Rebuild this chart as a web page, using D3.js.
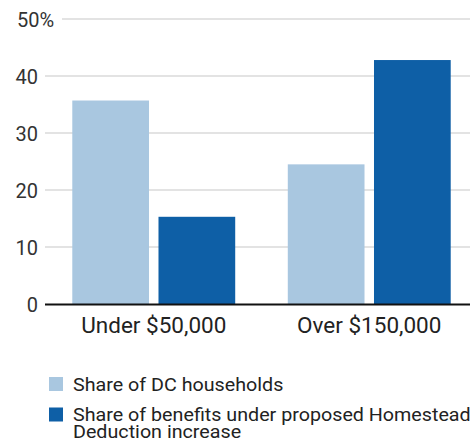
<!DOCTYPE html>
<meta charset="utf-8">
<script src="https://d3js.org/d3.v7.min.js"></script>
<style>
  body { margin: 0; background: #fff; }
  text { font-family: Roboto, "Noto Sans", sans-serif; }
</style>
<div id="my_dataviz"></div>
<script>

// data
var groups = ["Under $50,000", "Over $150,000"];
var series = ["Share of DC households", "Share of benefits under proposed Homestead Deduction increase"];
var households = [35.7, 24.5];
var benefits = [15.3, 42.8];
var yTicks = [0, 10, 20, 30, 40, 50];
var colors = ["#a9c7e0", "#0e5fa6"];

var width = 470, height = 440;

var svg = d3.select("#my_dataviz")
  .append("svg")
    .attr("width", width)
    .attr("height", height);

var y = d3.scaleLinear()
  .domain([0, 50])
  .range([304, 19]);

var x0 = d3.scaleBand()
  .domain(groups)
  .range([46, 477])
  .paddingInner(0.244)
  .paddingOuter(0.122);

var x1 = d3.scaleBand()
  .domain(series)
  .range([0, x0.bandwidth()])
  .paddingInner(0.11);

var color = d3.scaleOrdinal().domain(series).range(colors);

// gridlines
svg.selectAll("myGrid")
  .data(yTicks.filter(function(d){ return d > 0; }))
  .enter()
  .append("line")
    .attr("x1", function(d){ return d == 50 ? 62 : 45; })
    .attr("x2", width)
    .attr("y1", function(d){ return y(d); })
    .attr("y2", function(d){ return y(d); })
    .attr("stroke", "#c8c8c8")
    .attr("stroke-width", 1.2);

// y labels
var yLab = svg.selectAll("myYLabels")
  .data(yTicks)
  .enter()
  .append("text")
    .attr("x", 38)
    .attr("y", function(d){ return y(d) + 7.5; })
    .attr("text-anchor", "end")
    .style("font-size", "20px")
    .style("fill", "#333")
    .text(function(d){ return d; });

yLab.filter(function(d){ return d == 50; })
  .attr("text-anchor", "start")
  .attr("x", 17)
  .text("50%");

// bars
var rows = groups.map(function(g, i){
  return { group: g, values: [
    { key: series[0], value: households[i] },
    { key: series[1], value: benefits[i] }
  ]};
});

svg.selectAll("myGroups")
  .data(rows)
  .enter()
  .append("g")
    .attr("transform", function(d){ return "translate(" + x0(d.group) + ",0)"; })
  .selectAll("rect")
  .data(function(d){ return d.values; })
  .enter()
  .append("rect")
    .attr("x", function(d){ return x1(d.key); })
    .attr("y", function(d){ return y(d.value); })
    .attr("width", x1.bandwidth())
    .attr("height", function(d){ return y(0) - y(d.value); })
    .attr("fill", function(d){ return color(d.key); });

// baseline
svg.append("line")
  .attr("x1", 45)
  .attr("x2", width)
  .attr("y1", y(0) + 0.5)
  .attr("y2", y(0) + 0.5)
  .attr("stroke", "#111")
  .attr("stroke-width", 2);

// x labels
svg.selectAll("myXLabels")
  .data(groups)
  .enter()
  .append("text")
    .attr("x", function(d){ return x0(d) + x0.bandwidth() / 2; })
    .attr("y", 333)
    .attr("text-anchor", "middle")
    .style("font-size", "22.5px")
    .style("fill", "#222")
    .text(function(d){ return d; });

// legend (text a bit stretched horizontally like the original)
var legendRows = [
  { key: series[0], lines: ["Share of DC households"], top: 377 },
  { key: series[1], lines: ["Share of benefits under proposed Homestead", "Deduction increase"], top: 407.5 }
];

var leg = svg.selectAll("myLegend")
  .data(legendRows)
  .enter()
  .append("g");

leg.append("rect")
  .attr("x", 49)
  .attr("y", function(d){ return d.top; })
  .attr("width", 14)
  .attr("height", 14)
  .attr("fill", function(d){ return color(d.key); });

leg.append("text")
  .attr("transform", function(d){ return "translate(73," + (d.top + 13.7) + ") scale(1.12,1)"; })
  .style("font-size", "17.6px")
  .style("fill", "#222")
  .selectAll("tspan")
  .data(function(d){ return d.lines; })
  .enter()
  .append("tspan")
    .attr("x", 0)
    .attr("dy", function(d, i){ return i == 0 ? 0 : 16.5; })
    .text(function(d){ return d; });

</script>
